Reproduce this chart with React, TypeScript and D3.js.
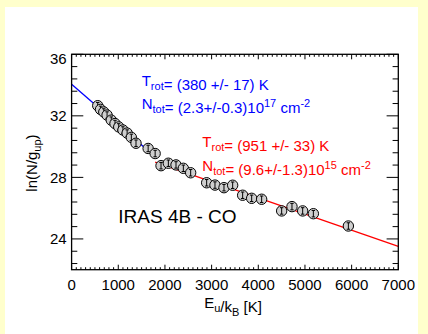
import React from "react";
import * as d3 from "d3";

// rotational diagram data
const warmX = [560, 620, 690, 760, 850, 930, 1010, 1100, 1190, 1280, 1380, 1640, 1790];
const warmY = [32.66, 32.42, 32.25, 32.05, 31.72, 31.5, 31.28, 31.08, 30.88, 30.6, 30.22, 29.88, 29.55];
const hotX = [1916, 2073, 2237, 2394, 2551, 2894, 3072, 3265, 3451, 3665, 3858, 4072, 4501, 4722, 4951, 5180, 5930];
const hotY = [28.76, 28.92, 28.81, 28.59, 28.3, 27.65, 27.5, 27.33, 27.49, 26.84, 26.64, 26.58, 25.82, 26.1, 25.82, 25.64, 24.84];
const errBar = 0.21;

// fits: y = a - x / T
const warmFit = { a: 34.05, T: 380, from: 0, to: 1790 };
const hotFit = { a: 30.88, T: 951, from: 1790, to: 7000 };

const xMajor = [0, 1000, 2000, 3000, 4000, 5000, 6000, 7000];
const yMajor = [24, 28, 32, 36];

const W = 428;
const H = 334;
const m = { left: 71.6, right: 398.3, top: 54.3, bottom: 269.7 };
const font = "'Liberation Sans', Arial, Helvetica, sans-serif";
const small = 11;

function Marker({ x, y, y0, y1 }: { x: number; y: number; y0: number; y1: number }) {
  return (
    <g>
      <circle cx={x} cy={y} r={5.2} fill="#cfcfcf" stroke="#000" strokeWidth={1} />
      <line x1={x} x2={x} y1={y0} y2={y1} stroke="#000" strokeWidth={1} />
      <line x1={x - 1.7} x2={x + 1.7} y1={y0} y2={y0} stroke="#000" strokeWidth={1} />
      <line x1={x - 1.7} x2={x + 1.7} y1={y1} y2={y1} stroke="#000" strokeWidth={1} />
    </g>
  );
}

function Sub({ base, sub }: { base: string; sub: string }) {
  return (
    <>
      <tspan>{base}</tspan>
      <tspan fontSize={small} dy={4}>{sub}</tspan>
      <tspan dy={-4}></tspan>
    </>
  );
}

export default function App() {
  const x = d3.scaleLinear().domain([0, 7000]).range([m.left, m.right]);
  const y = d3.scaleLinear().domain([22, 36]).range([m.bottom, m.top]);

  const xMinor = d3.range(0, 7001, 100);
  const yMinor = d3.range(22.4, 36.01, 0.8);

  const fitLine = (f: { a: number; T: number; from: number; to: number }) =>
    d3.line<number>().x((v) => x(v)).y((v) => y(f.a - v / f.T))([f.from, f.to]) || "";

  const pts = [
    ...warmX.map((v, i) => ({ x: v, y: warmY[i] })),
    ...hotX.map((v, i) => ({ x: v, y: hotY[i] })),
  ];

  return (
    <svg width={W} height={H} style={{ position: "absolute", left: 0, top: 0 }} fontFamily={font}>
      <rect x={0} y={0} width={W} height={H} fill="#ffffcc" />
      <rect x={5} y={7} width={413} height={H - 7} fill="#fff" />

      {/* fits */}
      <path d={fitLine(warmFit)} stroke="#0000ff" strokeWidth={1.3} fill="none" />
      <path d={fitLine(hotFit)} stroke="#ff0000" strokeWidth={1.3} fill="none" />

      {pts.map((p, i) => (
        <Marker key={i} x={x(p.x)} y={y(p.y)} y0={y(p.y + errBar)} y1={y(p.y - errBar)} />
      ))}

      {/* frame + ticks */}
      <rect x={m.left} y={m.top} width={m.right - m.left} height={m.bottom - m.top} fill="none" stroke="#000" strokeWidth={1.3} />
      {xMinor.map((v) => {
        const len = v % 1000 === 0 ? 5 : 2.5;
        return (
          <g key={"xt" + v} stroke="#000" strokeWidth={1}>
            <line x1={x(v)} x2={x(v)} y1={m.bottom} y2={m.bottom - len} />
            <line x1={x(v)} x2={x(v)} y1={m.top} y2={m.top + len} />
          </g>
        );
      })}
      {yMinor.map((v) => {
        const major = yMajor.some((t) => Math.abs(t - v) < 0.01);
        const len = major ? 11.7 : 5.7;
        return (
          <g key={"yt" + v} stroke="#000" strokeWidth={1}>
            <line x1={m.left} x2={m.left + len} y1={y(v)} y2={y(v)} />
            <line x1={m.right} x2={m.right - len} y1={y(v)} y2={y(v)} />
          </g>
        );
      })}

      {/* tick labels */}
      {xMajor.map((v) => (
        <text key={"xl" + v} x={x(v)} y={m.bottom + 20.5} fontSize={15} textAnchor="middle">
          {v}
        </text>
      ))}
      {yMajor.map((v) => (
        <text key={"yl" + v} x={m.left - 5} y={Math.max(y(v), m.top + 4.5) + 5.3} fontSize={15} textAnchor="end">
          {v}
        </text>
      ))}

      {/* axis titles */}
      <text x={233} y={308.3} fontSize={15} textAnchor="middle">
        <Sub base="E" sub="u" />
        <tspan>/k</tspan>
        <tspan fontSize={small} dy={4}>B</tspan>
        <tspan dy={-4}> [K]</tspan>
      </text>
      <text transform={`translate(37,163) rotate(-90)`} fontSize={15} textAnchor="middle">
        <tspan>ln(N/g</tspan>
        <tspan fontSize={small} dy={4}>up</tspan>
        <tspan dy={-4}>)</tspan>
      </text>

      {/* fit annotations */}
      <g fill="#0000ff" fontSize={15}>
        <text x={141.7} y={86}>
          <Sub base="T" sub="rot" />
          <tspan>= (380 +/- 17) K</tspan>
        </text>
        <text x={141.7} y={109.3}>
          <Sub base="N" sub="tot" />
          <tspan>= (2.3+/-0.3)10</tspan>
          <tspan fontSize={small} dy={-6}>17</tspan>
          <tspan dy={6}>  cm</tspan>
          <tspan fontSize={small} dy={-6}>-2</tspan>
        </text>
      </g>
      <g fill="#ff0000" fontSize={15}>
        <text x={202.3} y={147.3}>
          <Sub base="T" sub="rot" />
          <tspan>= (951 +/- 33) K</tspan>
        </text>
        <text x={202.3} y={170.7}>
          <Sub base="N" sub="tot" />
          <tspan>= (9.6+/-1.3)10</tspan>
          <tspan fontSize={small} dy={-6}>15</tspan>
          <tspan dy={6}>  cm</tspan>
          <tspan fontSize={small} dy={-6}>-2</tspan>
        </text>
      </g>

      <text x={118.3} y={223.3} fontSize={19}>
        IRAS 4B - CO
      </text>
    </svg>
  );
}
